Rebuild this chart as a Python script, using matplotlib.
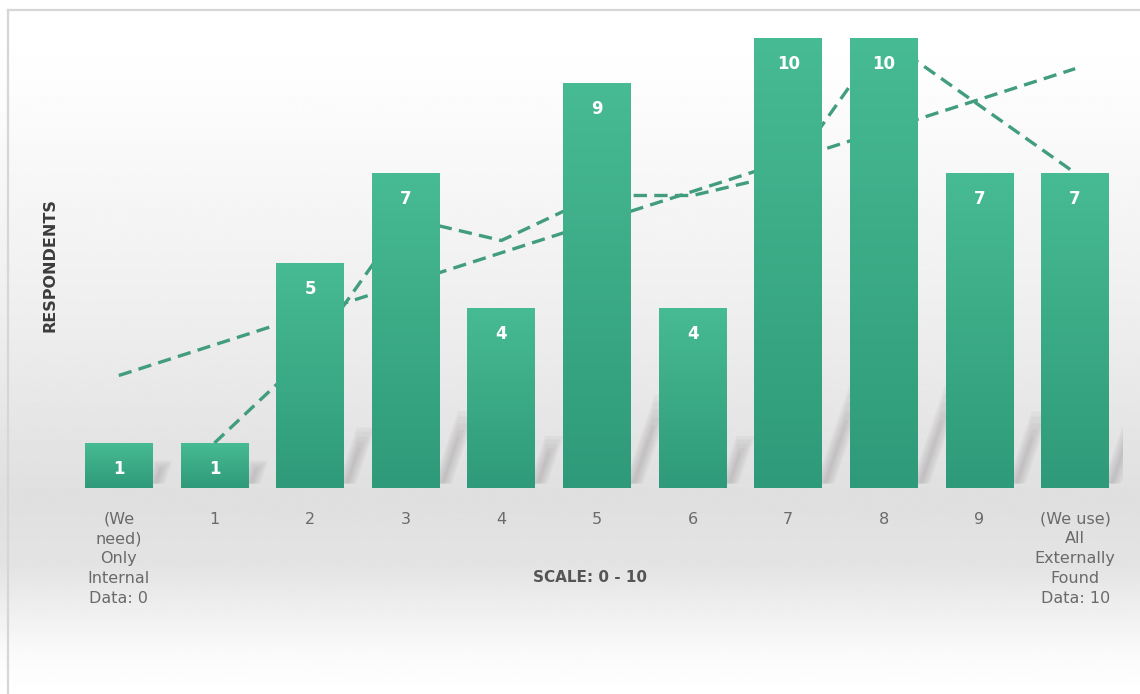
import numpy as np
import pandas as pd
import matplotlib.pyplot as plt
from matplotlib.colors import LinearSegmentedColormap

# ----------------------------
# Data
# ----------------------------
categories = [
    "(We\nneed)\nOnly\nInternal\nData: 0",
    "1", "2", "3", "4", "5", "6", "7", "8", "9",
    "(We use)\nAll\nExternally\nFound\nData: 10",
]
respondents = [1, 1, 5, 7, 4, 9, 4, 10, 10, 7, 7]

BAR_TOP = "#47bb93"
BAR_BOTTOM = "#2f9a79"
LINE_COLOR = "#429c7e"
TEXT_GRAY = "#6a6a6a"

x = np.arange(len(respondents))
y = np.array(respondents, dtype=float)

# 2-period moving average and linear trend
moving_avg = pd.Series(y).rolling(2).mean()
slope, intercept = np.polyfit(x, y, 1)
trend = slope * x + intercept

fig = plt.figure(figsize=(11.4, 6.94), dpi=100)

# ----------------------------
# Background gradient + frame
# ----------------------------
bg = fig.add_axes([0, 0, 1, 1], zorder=0)
rows = np.linspace(0, 1, 400)  # 0 = top of figure
shade = np.interp(rows, [0.0, 0.10, 0.45, 0.72, 0.82, 0.94, 1.0],
                  [1.0, 0.995, 0.935, 0.875, 0.895, 0.98, 1.0])
bg.imshow(np.tile(shade[:, None], (1, 2)), cmap="gray", vmin=0, vmax=1,
          aspect="auto", extent=[0, 1, 0, 1], interpolation="bilinear")
bg.plot([8 / 1140, 8 / 1140], [0, 1 - 10 / 694], color="#d6d6d6", lw=1.6)
bg.plot([8 / 1140, 1], [1 - 10 / 694, 1 - 10 / 694], color="#d6d6d6", lw=1.6)
bg.set_xlim(0, 1)
bg.set_ylim(0, 1)
bg.axis("off")

# ----------------------------
# Main axes
# ----------------------------
ax = fig.add_axes([71 / 1140, 206 / 694, 1052 / 1140, 450 / 694], zorder=1)
ax.set_facecolor("none")

bar_width = 0.71

# slanted soft shadows rising from the right foot of each bar,
# stacked thin layers so the edges and the top fade out
for xi, h in zip(x, y):
    rise = min(0.3 + 0.17 * h, 2.0)
    x0 = xi + bar_width / 2 + 0.03
    y0 = 0.1
    lean = 0.16
    layers = [(0.015, 0.70), (0.035, 0.80), (0.055, 0.90),
              (0.075, 1.00), (0.095, 1.08)]
    for half, frac in layers:
        r = rise * frac
        poly = [
            (x0 - half, y0),
            (x0 + half, y0),
            (x0 + lean * r + half, y0 + r),
            (x0 + lean * r - half, y0 + r),
        ]
        ax.add_patch(plt.Polygon(poly, closed=True, color="#8a8286",
                                 alpha=0.075, lw=0, zorder=1))

# dashed lines sit behind the bars
ax.plot(x, moving_avg, color=LINE_COLOR, lw=2.4, ls=(0, (4, 2.2)),
        zorder=2)
ax.plot(x, trend, color=LINE_COLOR, lw=2.4, ls=(0, (4, 2.2)),
        zorder=2)

bars = ax.bar(x, y, width=bar_width, color=BAR_BOTTOM, zorder=3)

# vertical gradient on each bar
cmap = LinearSegmentedColormap.from_list("bar", [BAR_BOTTOM, BAR_TOP])
grad = np.linspace(0, 1, 256)[:, None]
for b in bars:
    bx, bw, bh = b.get_x(), b.get_width(), b.get_height()
    im = ax.imshow(grad, cmap=cmap, aspect="auto", origin="lower",
                   extent=[bx, bx + bw, 0, bh], zorder=3.5)
    im.set_clip_path(b)

# value labels inside the bars
for xi, h in zip(x, y):
    ax.text(xi, h - 0.58, f"{int(h)}", ha="center", va="center",
            color="white", fontsize=12, fontweight="bold", zorder=5)

ax.set_xlim(-0.5, len(x) - 0.5)
ax.set_ylim(0, 10)
ax.set_xticks(x)
ax.set_xticklabels(categories, color=TEXT_GRAY, fontsize=11.5,
                   linespacing=1.4, va="top")
ax.tick_params(axis="x", length=0, pad=17)
ax.set_yticks([])
for spine in ax.spines.values():
    spine.set_visible(False)

fig.text(590 / 1140, 1 - 578 / 694, "SCALE: 0 - 10", ha="center",
         va="center", fontsize=11, fontweight="bold", color="#555555")
fig.text(50 / 1140, 1 - 265 / 694, "RESPONDENTS", ha="center",
         va="center", rotation=90, fontsize=11.5, fontweight="bold",
         color="#3c3c3c")

fig.savefig("out.png", dpi=100)
plt.close(fig)
